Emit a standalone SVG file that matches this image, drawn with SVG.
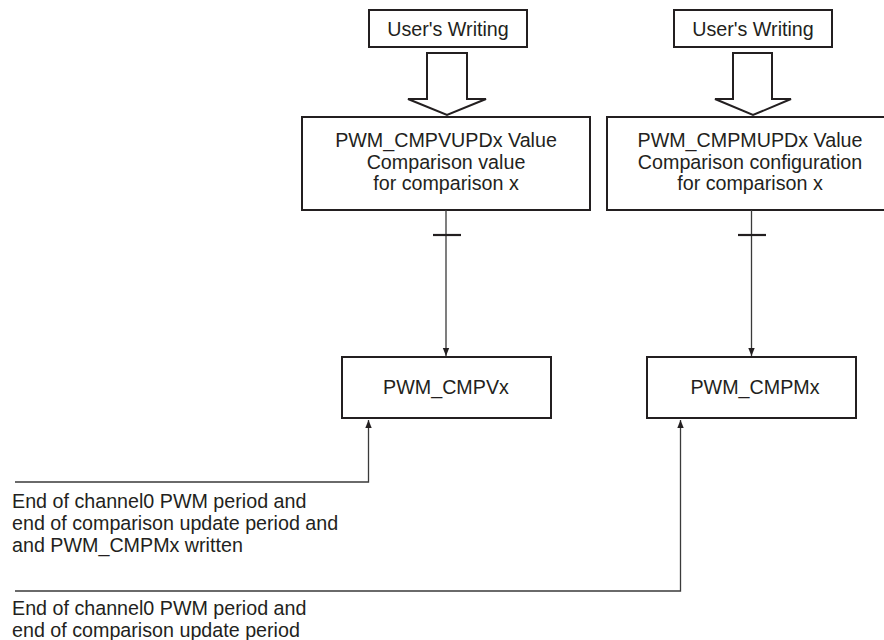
<svg xmlns="http://www.w3.org/2000/svg" width="884" height="640" viewBox="0 0 884 640">
<defs>
<style>
.box{fill:#fff;stroke:#231f20;stroke-width:2}
.hollow{fill:#fff;stroke:#231f20;stroke-width:2;stroke-linejoin:miter}
.t{font-family:"Liberation Sans",Arial,sans-serif;font-size:19.7px;fill:#231f20}
.c{text-anchor:middle}
.ln{fill:none;stroke:#3a3a3a;stroke-width:1.3}
.tick{stroke:#231f20;stroke-width:2.2}
</style>
<marker id="ah" viewBox="0 0 10 10" refX="10" refY="5" markerWidth="8" markerHeight="8" markerUnits="userSpaceOnUse" orient="auto">
<path d="M0,1 L10,5 L0,9 Z" fill="#231f20"/>
</marker>
</defs>
<rect width="884" height="640" fill="#fff"/>

<g id="user1">
<rect class="box" x="369" y="10" width="158" height="37"/>
<text class="t c" x="448" y="36">User's Writing</text>
</g>
<g id="user2">
<rect class="box" x="674" y="10" width="158" height="37"/>
<text class="t c" x="753" y="36">User's Writing</text>
</g>

<g id="hollow1">
<polygon class="hollow" points="427,53 467,53 467,99 486,99 447,115 408,99 427,99"/>
</g>
<g id="hollow2">
<polygon class="hollow" points="733,53 772,53 772,99 791,99 753,115 715,99 733,99"/>
</g>

<g id="cmpvupd">
<rect class="box" x="302" y="117" width="288" height="93"/>
<text class="t c" x="446" y="147">PWM_CMPVUPDx Value</text>
<text class="t c" x="446" y="168.5">Comparison value</text>
<text class="t c" x="446" y="190">for comparison x</text>
</g>
<g id="cmpmupd">
<rect class="box" x="607" y="117" width="290" height="93"/>
<text class="t c" x="750" y="147">PWM_CMPMUPDx Value</text>
<text class="t c" x="750" y="168.5">Comparison configuration</text>
<text class="t c" x="750" y="190">for comparison x</text>
</g>

<g id="cmpv">
<rect class="box" x="342" y="357" width="209" height="61"/>
<text class="t c" x="446" y="394">PWM_CMPVx</text>
</g>
<g id="cmpm">
<rect class="box" x="647" y="357" width="209" height="61"/>
<text class="t c" x="755" y="394">PWM_CMPMx</text>
</g>

<g id="connectors">
<line class="ln" x1="446" y1="210" x2="446" y2="356" marker-end="url(#ah)"/>
<line class="tick" x1="433" y1="235" x2="461" y2="235"/>
<line class="ln" x1="751.5" y1="210" x2="751.5" y2="356" marker-end="url(#ah)"/>
<line class="tick" x1="738" y1="235" x2="766" y2="235"/>
<polyline class="ln" points="15,482 368.5,482 368.5,420" marker-end="url(#ah)"/>
<polyline class="ln" points="15,591 680.5,591 680.5,420" marker-end="url(#ah)"/>
</g>

<g id="label1">
<text class="t" x="12" y="507.5">End of channel0 PWM period and</text>
<text class="t" x="12" y="529.5">end of comparison update period and</text>
<text class="t" x="12" y="551.5">and PWM_CMPMx written</text>
</g>
<g id="label2">
<text class="t" x="12" y="615">End of channel0 PWM period and</text>
<text class="t" x="12" y="636.5">end of comparison update period</text>
</g>
</svg>
